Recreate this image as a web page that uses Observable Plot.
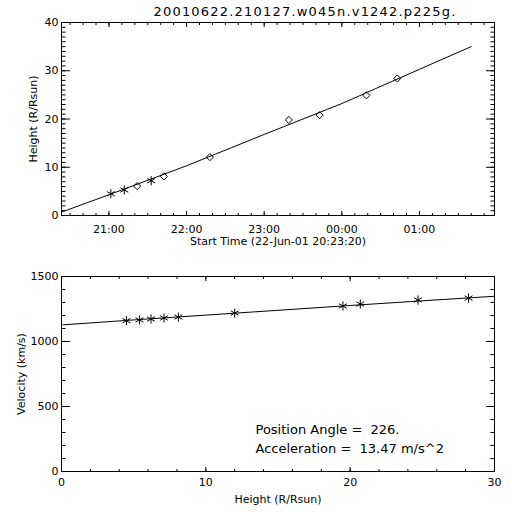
<!DOCTYPE html>
<html><head><meta charset="utf-8">
<script src="https://cdn.jsdelivr.net/npm/d3@7"></script>
<script src="https://cdn.jsdelivr.net/npm/@observablehq/plot@0.6"></script>
<style>
html,body{margin:0;padding:0;background:#fff;}
#chart{position:relative;width:512px;height:512px;background:#fff;overflow:hidden;}
#title{position:absolute;top:4px;left:0;width:610px;text-align:center;font-family:"DejaVu Sans";font-size:13px;line-height:15px;letter-spacing:1.2px;color:#000;white-space:nowrap;z-index:5;}
.panel{position:absolute;left:0;width:512px;height:256px;}
svg text, svg tspan{white-space:pre;}
</style></head><body>
<div id="chart"><div class="panel" id="top" style="top:0"></div><div class="panel" id="bottom" style="top:256px"></div><div id="title"></div></div>
<script>
// ---- texts ----
const titleText = "20010622.210127.w045n.v1242.p225g.";
const timeAxisLabel = "Start Time (22-Jun-01 20:23:20)";
const heightAxisLabel = "Height (R/Rsun)";
const velocityAxisLabel = "Velocity (km/s)";
const positionAngle = "226.";
const acceleration = "13.47";

// ---- top panel: height vs time ----
const timeDomain = ["2001-06-22T20:23:20Z", "2001-06-23T01:58:00Z"];
const timeTicks = ["2001-06-22T21:00:00Z", "2001-06-22T22:00:00Z", "2001-06-22T23:00:00Z", "2001-06-23T00:00:00Z", "2001-06-23T01:00:00Z"];
const heightDomain = [0, 40];
const heightTicks = [0, 10, 20, 30, 40];

const obsTimes = ["2001-06-22T21:01:27Z", "2001-06-22T21:11:50Z", "2001-06-22T21:21:50Z", "2001-06-22T21:32:40Z", "2001-06-22T21:42:25Z",
                  "2001-06-22T22:18:00Z", "2001-06-22T23:19:00Z", "2001-06-22T23:42:50Z", "2001-06-23T00:19:00Z", "2001-06-23T00:42:50Z"];
const obsHeights = [4.5, 5.3, 6.1, 7.2, 8.1, 12.1, 19.8, 20.8, 24.9, 28.4];
const obsDetector = ["C2", "C2", "C3", "C2", "C3", "C3", "C3", "C3", "C3", "C3"];

const fitTimes = ["2001-06-22T20:23:20Z", "2001-06-22T21:00:00Z", "2001-06-22T22:00:00Z", "2001-06-22T23:00:00Z", "2001-06-23T00:00:00Z", "2001-06-23T01:00:00Z", "2001-06-23T01:40:00Z"];
const fitHeights = [0.7, 4.3, 10.3, 16.8, 23.2, 30.3, 35.0];

// ---- bottom panel: velocity vs height ----
const velXDomain = [0, 30];
const velXTicks = [0, 10, 20, 30];
const velYDomain = [0, 1500];
const velYTicks = [0, 500, 1000, 1500];
const velHeights = [4.5, 5.4, 6.2, 7.1, 8.1, 12.0, 19.5, 20.7, 24.7, 28.2];
const velValues = [1160, 1166, 1173, 1181, 1188, 1219, 1273, 1288, 1319, 1334];
const velFitHeights = [0.1, 5, 10, 15, 20, 25, 30];
const velFitValues = [1128, 1166, 1203, 1240, 1277, 1313, 1348];

// ---- build tables ----
const parse = s => new Date(s);
const obs = obsTimes.map((t, i) => ({t: parse(t), h: obsHeights[i], det: obsDetector[i]}));
const fit = fitTimes.map((t, i) => ({t: parse(t), h: fitHeights[i]}));
const vel = velHeights.map((h, i) => ({h, v: velValues[i]}));
const velFit = velFitHeights.map((h, i) => ({h, v: velFitValues[i]}));

// inward ticks on all four sides (negative tickSize points into the frame)
const blank = () => "";
function boxTicks(axis, values, len) {
  if (axis === "x") return [
    Plot.axisX({anchor: "bottom", ticks: values, tickSize: -len, tickFormat: blank, label: null}),
    Plot.axisX({anchor: "top", ticks: values, tickSize: -len, tickFormat: blank, label: null})
  ];
  return [
    Plot.axisY({anchor: "left", ticks: values, tickSize: -len, tickFormat: blank, label: null}),
    Plot.axisY({anchor: "right", ticks: values, tickSize: -len, tickFormat: blank, label: null})
  ];
}

const style = {fontFamily: "DejaVu Sans", fontSize: "11px", color: "black", background: "white", overflow: "visible"};

const tDom = timeDomain.map(parse);
const topPlot = Plot.plot({
  width: 512, height: 256,
  marginLeft: 61, marginRight: 18, marginTop: 22, marginBottom: 41,
  style,
  x: {type: "utc", domain: tDom},
  y: {domain: heightDomain},
  marks: [
    Plot.frame({stroke: "black"}),
    ...boxTicks("x", d3.utcMinute.every(10).range(tDom[0], tDom[1]), 2),
    ...boxTicks("x", timeTicks.map(parse), 4),
    ...boxTicks("y", d3.range(heightDomain[0], heightDomain[1] + 1, 1), 4.5),
    ...boxTicks("y", heightTicks, 9),
    Plot.axisX({anchor: "bottom", ticks: timeTicks.map(parse), tickSize: 0, tickPadding: 13.5, lineAnchor: "middle", tickFormat: d3.utcFormat("%H:%M"), label: null}),
    Plot.axisY({anchor: "left", ticks: heightTicks, tickSize: 0, tickPadding: 3, label: null}),
    Plot.line(fit, {x: "t", y: "h", stroke: "black", strokeWidth: 1}),
    Plot.dot(obs.filter(d => d.det === "C2"), {x: "t", y: "h", symbol: "asterisk", r: 4.3, stroke: "black", fill: "none", strokeWidth: 1}),
    Plot.dot(obs.filter(d => d.det === "C3"), {x: "t", y: "h", symbol: "diamond2", r: 3.2, stroke: "black", fill: "none", strokeWidth: 1}),
    Plot.text([timeAxisLabel], {text: d => d, frameAnchor: "bottom", dy: 25.5, lineAnchor: "middle"}),
    Plot.text([heightAxisLabel], {text: d => d, frameAnchor: "left", dx: -28.5, rotate: -90, textAnchor: "middle", lineAnchor: "middle"})
  ]
});

const botPlot = Plot.plot({
  width: 512, height: 256,
  marginLeft: 61, marginRight: 18, marginTop: 20, marginBottom: 41,
  style,
  x: {domain: velXDomain},
  y: {domain: velYDomain},
  marks: [
    Plot.frame({stroke: "black"}),
    ...boxTicks("x", d3.range(velXDomain[0], velXDomain[1] + 1, 2), 2),
    ...boxTicks("x", velXTicks, 4),
    ...boxTicks("y", d3.range(velYDomain[0], velYDomain[1] + 1, 100), 4.5),
    ...boxTicks("y", velYTicks, 9),
    Plot.axisX({anchor: "bottom", ticks: velXTicks, tickSize: 0, tickPadding: 11, lineAnchor: "middle", tickFormat: d => String(d), label: null}),
    Plot.axisY({anchor: "left", ticks: velYTicks, tickSize: 0, tickPadding: 3, tickFormat: d => String(d), label: null}),
    Plot.line(velFit, {x: "h", y: "v", stroke: "black", strokeWidth: 1}),
    Plot.dot(vel, {x: "h", y: "v", symbol: "asterisk", r: 4.3, stroke: "black", fill: "none", strokeWidth: 1}),
    Plot.text([heightAxisLabel], {text: d => d, frameAnchor: "bottom", dy: 27.5, lineAnchor: "middle"}),
    Plot.text([velocityAxisLabel], {text: d => d, frameAnchor: "left", dx: -40.5, rotate: -90, textAnchor: "middle", lineAnchor: "middle"}),
    Plot.text([`Position Angle =  ${positionAngle}\nAcceleration =  ${acceleration} m/s^2`], {
      text: d => d, frameAnchor: "bottom-left", dx: 194, dy: -34, textAnchor: "start", lineAnchor: "middle", fontSize: 13, lineHeight: 1.46
    })
  ]
});

document.getElementById("title").textContent = titleText;
document.getElementById("top").appendChild(topPlot);
document.getElementById("bottom").appendChild(botPlot);
</script>
</body></html>
